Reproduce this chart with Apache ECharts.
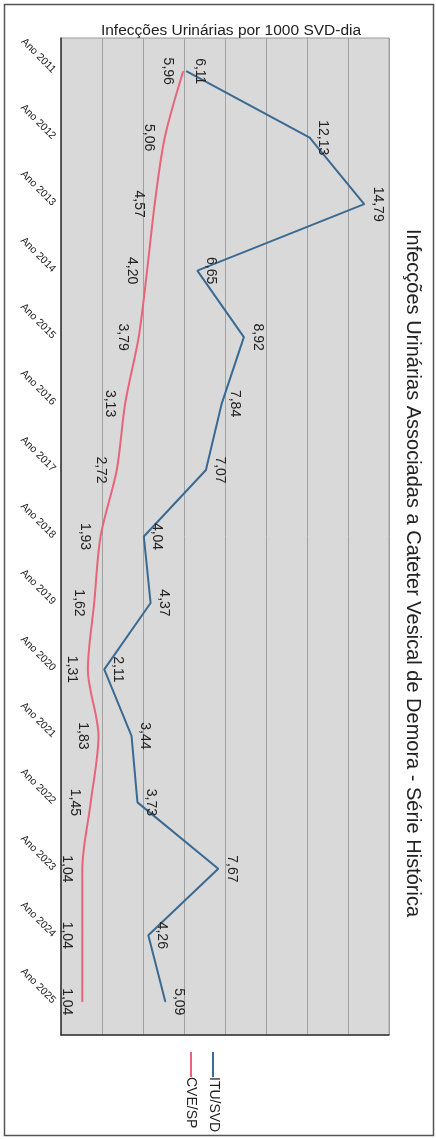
<!DOCTYPE html>
<html>
<head>
<meta charset="utf-8">
<script src="https://cdn.jsdelivr.net/npm/echarts@6/dist/echarts.min.js"></script>
<style>
html,body{margin:0;padding:0;background:#fff;}
#c{width:436px;height:1139px;}
</style>
</head>
<body>
<div id="c"></div>
<script>
const categories = ["Ano 2011","Ano 2012","Ano 2013","Ano 2014","Ano 2015","Ano 2016","Ano 2017","Ano 2018","Ano 2019","Ano 2020","Ano 2021","Ano 2022","Ano 2023","Ano 2024","Ano 2025"];
const ituSvd = [6.11, 12.13, 14.79, 6.65, 8.92, 7.84, 7.07, 4.04, 4.37, 2.11, 3.44, 3.73, 7.67, 4.26, 5.09];
const cveSp = [5.96, 5.06, 4.57, 4.20, 3.79, 3.13, 2.72, 1.93, 1.62, 1.31, 1.83, 1.45, 1.04, 1.04, 1.04];
const seriesNames = ["ITU/SVD", "CVE/SP"];
const chartTitle = "Infecções Urinárias por 1000 SVD-dia";
const sideTitle = "Infecções Urinárias Associadas a Cateter Vesical de Demora - Série Histórica";

const fmt = p => p.value.toFixed(2).replace('.', ',');
const FONT = 'Liberation Sans, Arial, sans-serif';
const ITU_COLOR = '#3a6a92';
const CVE_COLOR = '#e8647a';

const chart = echarts.init(document.getElementById('c'), null, {renderer: 'canvas'});
chart.setOption({
  animation: false,
  backgroundColor: '#ffffff',
  title: {
    text: chartTitle,
    left: 226, top: 18, textAlign: 'center',
    textStyle: {fontFamily: FONT, fontSize: 15.5, fontWeight: 'normal', color: '#222'}
  },
  grid: {left: 61, right: 47, top: 38, bottom: 104, show: true, backgroundColor: '#d9d9d9', borderColor: '#9a9a9a', borderWidth: 1},
  xAxis: {
    type: 'value', min: 0, max: 16, interval: 2, position: 'bottom',
    axisLabel: {show: false}, axisTick: {show: false},
    axisLine: {show: true, lineStyle: {color: '#333', width: 1.5}},
    splitLine: {show: true, lineStyle: {color: '#a0a0a0', width: 1}}
  },
  yAxis: {
    type: 'category', data: categories, inverse: true, boundaryGap: true,
    axisLine: {show: true, lineStyle: {color: '#333', width: 1.5}},
    axisTick: {show: false},
    axisLabel: {rotate: -45, margin: 7, fontFamily: FONT, fontSize: 10.5, color: '#222'},
    splitLine: {show: false}
  },
  series: [
    {
      name: seriesNames[0], type: 'line', data: ituSvd,
      symbol: 'circle', symbolSize: 1, showSymbol: true,
      itemStyle: {color: ITU_COLOR},
      lineStyle: {color: ITU_COLOR, width: 2},
      label: {show: true, formatter: fmt, position: 'right', distance: 6, rotate: -90,
        align: 'center', verticalAlign: 'bottom', fontFamily: FONT, fontSize: 14, color: '#222'},
      z: 3
    },
    {
      name: seriesNames[1], type: 'line', data: cveSp, smooth: 0.3,
      symbol: 'circle', symbolSize: 1, showSymbol: true,
      itemStyle: {color: CVE_COLOR},
      lineStyle: {color: CVE_COLOR, width: 2},
      label: {show: true, formatter: fmt, position: 'left', distance: 8, rotate: -90,
        align: 'center', verticalAlign: 'top', fontFamily: FONT, fontSize: 14, color: '#222'},
      z: 2
    }
  ],
  graphic: [
    {type: 'rect', shape: {x: 4.5, y: 4.5, width: 429, height: 1131}, style: {fill: 'none', stroke: '#555', lineWidth: 1.5}, silent: true},
    {type: 'text', x: 413, y: 573, rotation: -Math.PI / 2,
      style: {text: sideTitle, fontFamily: FONT, fontSize: 20, fill: '#222', textAlign: 'center', textVerticalAlign: 'middle'}},
    {type: 'line', shape: {x1: 213, y1: 1052, x2: 213, y2: 1077}, style: {stroke: ITU_COLOR, lineWidth: 2}},
    {type: 'text', x: 214, y: 1077, rotation: -Math.PI / 2,
      style: {text: seriesNames[0], fontFamily: FONT, fontSize: 14, fill: '#222', textAlign: 'left', textVerticalAlign: 'middle'}},
    {type: 'line', shape: {x1: 191, y1: 1052, x2: 191, y2: 1077}, style: {stroke: CVE_COLOR, lineWidth: 2}},
    {type: 'text', x: 191, y: 1077, rotation: -Math.PI / 2,
      style: {text: seriesNames[1], fontFamily: FONT, fontSize: 14, fill: '#222', textAlign: 'left', textVerticalAlign: 'middle'}}
  ]
});
</script>
</body>
</html>
